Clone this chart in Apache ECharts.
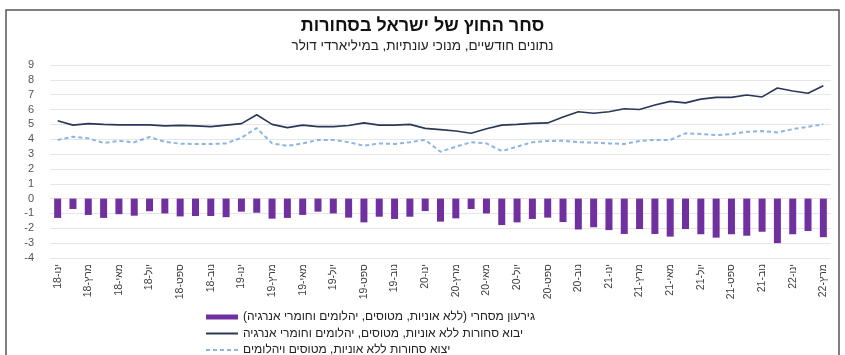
<!DOCTYPE html>
<html>
<head>
<meta charset="utf-8">
<script src="https://cdn.jsdelivr.net/npm/echarts@6/dist/echarts.min.js"></script>
<style>
  html, body { margin: 0; padding: 0; background: #fff; }
  #chart { width: 845px; height: 355px; }
</style>
</head>
<body>
<div id="chart" dir="rtl"></div>
<script>
// Monthly categories, Jan 2018 – Mar 2022
const categories = [
  'ינו-18','פבר-18','מרץ-18','אפר-18','מאי-18','יונ-18','יול-18','אוג-18','ספט-18','אוק-18','נוב-18','דצמ-18',
  'ינו-19','פבר-19','מרץ-19','אפר-19','מאי-19','יונ-19','יול-19','אוג-19','ספט-19','אוק-19','נוב-19','דצמ-19',
  'ינו-20','פבר-20','מרץ-20','אפר-20','מאי-20','יונ-20','יול-20','אוג-20','ספט-20','אוק-20','נוב-20','דצמ-20',
  'ינו-21','פבר-21','מרץ-21','אפר-21','מאי-21','יונ-21','יול-21','אוג-21','ספט-21','אוק-21','נוב-21','דצמ-21',
  'ינו-22','פבר-22','מרץ-22'
];

// Trade deficit, billions of USD
const balance = [
  -1.3, -0.7, -1.1, -1.3, -1.05, -1.15, -0.85, -1.0, -1.2, -1.17, -1.17, -1.25,
  -0.88, -0.95, -1.35, -1.3, -1.1, -0.88, -1.0, -1.28, -1.6, -1.22, -1.37, -1.22,
  -0.84, -1.55, -1.33, -0.7, -1.0, -1.78, -1.6, -1.37, -1.28, -1.58, -2.08, -1.93,
  -2.12, -2.38, -2.05, -2.38, -2.56, -2.05, -2.4, -2.63, -2.4, -2.5, -2.23, -3.0,
  -2.4, -2.18, -2.6
];

// Goods imports excl. ships, aircraft, diamonds and fuels
const imports = [
  5.25, 4.95, 5.05, 5.0, 4.97, 4.97, 4.97, 4.9, 4.93, 4.9, 4.85, 4.95,
  5.05, 5.65, 5.0, 4.78, 4.95, 4.85, 4.85, 4.92, 5.1, 4.95, 4.95, 5.0,
  4.73, 4.65, 4.55, 4.4, 4.7, 4.95, 5.0, 5.07, 5.1, 5.5, 5.85, 5.75,
  5.85, 6.05, 6.0, 6.3, 6.55, 6.45, 6.7, 6.82, 6.82, 6.98, 6.85, 7.45,
  7.25, 7.1, 7.6
];

// Goods exports excl. ships, aircraft and diamonds
const exports_ = [
  3.95, 4.17, 4.06, 3.75, 3.88, 3.8, 4.15, 3.83, 3.7, 3.68, 3.68, 3.72,
  4.1, 4.75, 3.72, 3.55, 3.72, 3.95, 3.95, 3.8, 3.56, 3.72, 3.68, 3.8,
  3.95, 3.16, 3.5, 3.8, 3.72, 3.2, 3.5, 3.8, 3.88, 3.9, 3.8, 3.77,
  3.72, 3.68, 3.88, 3.95, 3.95, 4.4, 4.35, 4.28, 4.35, 4.5, 4.55, 4.46,
  4.68, 4.84, 5.0
];

const seriesNames = [
  'גירעון מסחרי (ללא אוניות, מטוסים, יהלומים וחומרי אנרגיה)',
  'יבוא סחורות ללא אוניות, מטוסים, יהלומים וחומרי אנרגיה',
  'יצוא סחורות ללא אוניות, מטוסים ויהלומים'
];

const FONT = '"Liberation Sans", Arial, sans-serif';
const LRM = '\u200E'; // keeps the minus sign in front of the digits

const chart = echarts.init(document.getElementById('chart'), null, { renderer: 'canvas' });

chart.setOption({
  animation: false,
  backgroundColor: '#ffffff',
  textStyle: { fontFamily: FONT },
  title: {
    text: 'סחר החוץ של ישראל בסחורות',
    subtext: 'נתונים חודשיים, מנוכי עונתיות, במיליארדי דולר',
    left: 'center',
    top: 12,
    itemGap: 4,
    textStyle: { fontFamily: FONT, fontSize: 18, fontWeight: 'bold', color: '#111' },
    subtextStyle: { fontFamily: FONT, fontSize: 13.5, color: '#222' }
  },
  graphic: [{
    type: 'rect',
    silent: true,
    shape: { x: 6, y: 10, width: 833, height: 360 },
    style: { fill: 'none', stroke: '#555', lineWidth: 1.5 }
  }],
  legend: {
    orient: 'vertical',
    left: 200,
    top: 306,
    height: 70,
    itemWidth: 32,
    itemHeight: 5,
    itemGap: 4.5,
    textStyle: { fontFamily: FONT, fontSize: 12, color: '#222' },
    data: [
      { name: seriesNames[0], icon: 'rect' },
      { name: seriesNames[1], itemStyle: { opacity: 0 } },
      { name: seriesNames[2], itemStyle: { opacity: 0 } }
    ]
  },
  grid: { left: 50, right: 14, top: 65, bottom: 97, containLabel: false },
  xAxis: {
    type: 'category',
    data: categories,
    axisLine: { show: false, onZero: false },
    axisTick: { show: false },
    axisLabel: {
      interval: 1,
      rotate: 90,
      fontSize: 10.5,
      color: '#404040',
      margin: 6,
      fontFamily: FONT
    },
    splitLine: { show: false }
  },
  yAxis: {
    type: 'value',
    min: -4,
    max: 9,
    interval: 1,
    axisLine: { show: false },
    axisTick: { show: false },
    axisLabel: {
      fontSize: 11,
      color: '#555',
      margin: 16,
      fontFamily: FONT,
      formatter: (v) => LRM + v
    },
    splitLine: { lineStyle: { color: '#e6e6e6', width: 1 } }
  },
  series: [
    {
      name: seriesNames[0],
      type: 'bar',
      data: balance,
      barWidth: 7,
      itemStyle: { color: '#7030A0' }
    },
    {
      name: seriesNames[1],
      type: 'line',
      data: imports,
      symbol: 'none',
      lineStyle: { color: '#2A3858', width: 1.6 },
      itemStyle: { color: '#2A3858' }
    },
    {
      name: seriesNames[2],
      type: 'line',
      data: exports_,
      symbol: 'none',
      lineStyle: { color: '#8DB4E2', width: 2, type: [4, 3] },
      itemStyle: { color: '#8DB4E2' }
    }
  ]
});
</script>
</body>
</html>
